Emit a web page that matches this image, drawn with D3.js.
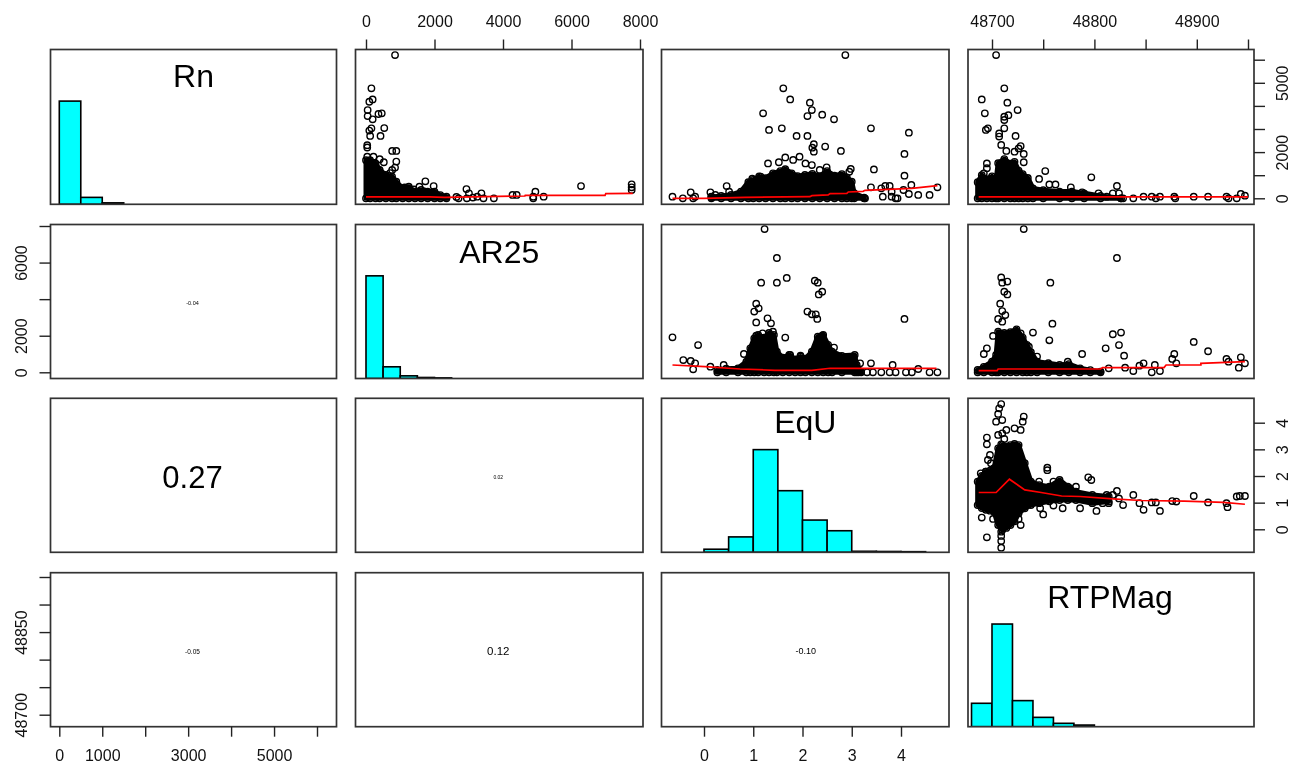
<!DOCTYPE html>
<html>
<head>
<meta charset="utf-8">
<script src="https://cdn.jsdelivr.net/npm/d3@7"></script>
<style>
  html, body { margin: 0; padding: 0; background: #fff; }
  svg { display: block; filter: blur(0.45px); }
  text { font-family: "Liberation Sans", Arial, sans-serif; }
</style>
</head>
<body>
<div id="chart"></div>
<script>
// Variable names on the diagonal
const varNames = ["Rn", "AR25", "EqU", "RTPMag"];

// Tick values and which of them carry a label (R skips the ones that overlap)
const rnXTicks = [0, 1000, 2000, 3000, 4000, 5000, 6000];
const rnXLabels = [0, 1000, 3000, 5000];
const rnYLabels = [0, 2000, 5000];
const arTicks = [0, 2000, 4000, 6000, 8000];
const arXLabels = [0, 2000, 4000, 6000, 8000];
const arYLabels = [0, 2000, 6000];
const equTicks = [0, 1, 2, 3, 4];
const magTicks = [48700, 48750, 48800, 48850, 48900, 48950];
const magXLabels = [48700, 48800, 48900];
const magYLabels = [48700, 48850];

// Histogram breaks and bar heights (relative to the tallest bar)
const rnBreaks = [0, 500, 1000, 1500];
const rnHeights = [1, 0.067, 0.014];
const arBreaks = [0, 500, 1000, 1500, 2000, 2500];
const arHeights = [1, 0.114, 0.026, 0.01, 0.006];
const equBreaks = [0, 0.5, 1, 1.5, 2, 2.5, 3, 3.5, 4, 4.5];
const equHeights = [0.03, 0.15, 1, 0.6, 0.314, 0.21, 0.01, 0.008, 0.006];
const magBreaks = [48680, 48700, 48720, 48740, 48760, 48780, 48800];
const magHeights = [0.228, 1, 0.254, 0.091, 0.033, 0.016];

// Correlations in the lower panels: [row, col, text, font size]
const corrLabels = [
    [1, 0, "-0.04", 5.5],
    [2, 0, "0.27", 31],
    [2, 1, "0.02", 5],
    [3, 0, "-0.05", 6.5],
    [3, 1, "0.12", 11.5],
    [3, 2, "-0.10", 9]
];

// Scatter points [x, y]
const arRnPoints = [[848,6200],[158,4760],[194,4280],[97,4180],[48,3820],[48,3560],[460,3680],[364,3650],[194,3420],[533,3040],[158,3030],[97,2930],[121,2700],[424,2700],[36,2300],[36,2200],[764,2050],[885,2050],[36,1800],[218,1800],[400,1690],[520,1560],[885,1590],[764,1230],[848,1330],[703,1090],[1733,735],[1975,530],[2933,400],[6278,530],[7757,605],[7757,475],[7757,360],[2703,0],[2945,0],[3006,216],[3370,216],[3430,0],[3733,0],[4278,144],[4400,144],[4884,0],[4945,288],[5187,72],[4884,72],[3248,72],[2640,60],[3120,30],[1560,500],[1400,380],[1130,470],[1700,300]];
const arRnDense = [[0,0,1650],[120,0,1650],[280,0,1510],[400,0,1230],[580,0,1010],[760,0,940],[885,0,720],[1070,0,430],[1250,0,500],[1430,0,290],[1610,0,360],[1800,0,290],[2000,0,290],[2170,0,140],[2350,0,70]];
const arRnSmooth = [[0,58],[1855,58],[2300,44],[4640,100],[4650,130],[6980,130],[7000,200],[7790,216]];

const equRnPoints = [[2.87,6200],[1.61,4760],[1.75,4280],[2.15,4140],[2.19,3820],[2.10,3560],[2.40,3620],[2.64,3420],[1.20,3680],[1.32,2960],[1.58,3030],[1.88,2700],[2.10,2700],[2.23,2340],[2.20,2190],[2.23,2020],[2.46,2240],[2.78,2050],[3.39,3030],[4.16,2840],[4.07,1920],[3.45,1250],[4.07,980],[1.30,1510],[1.52,1560],[1.65,1770],[1.81,1660],[1.94,1800],[2.06,1510],[2.19,1440],[2.49,1340],[2.98,1270],[2.95,1150],[2.35,1230],[0.98,850],[1.15,940],[0.46,530],[-0.27,260],[-0.64,72],[-0.43,0],[-0.18,72],[-0.22,0],[0.13,260],[0.51,288],[0.15,72],[0.23,144],[3.39,476],[3.60,432],[3.68,533],[3.77,533],[3.81,288],[3.63,72],[3.81,72],[3.89,0],[3.93,0],[4.05,360],[4.16,187],[4.21,577],[4.35,144],[4.58,144],[4.74,476],[3.27,0]];
const equRnDense = [[0.15,0,60],[0.35,0,100],[0.55,0,150],[0.75,0,290],[0.9,0,700],[1.0,0,800],[1.12,0,950],[1.25,0,870],[1.4,0,1080],[1.55,0,1180],[1.65,0,1260],[1.78,0,1080],[1.9,0,960],[2.05,0,1010],[2.2,0,1060],[2.35,0,950],[2.5,0,1180],[2.65,0,980],[2.8,0,1050],[2.9,0,900],[3.0,0,720],[3.05,0,220],[3.25,0,30]];
const equRnSmooth = [[-0.64,0],[0,0],[0.83,43],[2.15,72],[2.19,115],[2.52,144],[2.56,202],[2.9,216],[2.93,274],[3.23,303],[3.27,346],[4.22,432],[4.74,548]];

const magRnPoints = [[48704,6200],[48712,4760],[48690,4280],[48715,4140],[48693,3680],[48725,3820],[48716,3600],[48712,3530],[48712,3390],[48696,3030],[48694,2960],[48712,3030],[48707,2810],[48707,2670],[48723,2700],[48709,2310],[48728,2260],[48726,2160],[48722,2020],[48714,2050],[48731,1920],[48731,1560],[48695,1510],[48695,1300],[48692,1080],[48752,1180],[48746,840],[48756,600],[48762,600],[48797,910],[48777,476],[48822,533],[48804,216],[48818,216],[48824,216],[48838,0],[48848,72],[48856,72],[48864,72],[48878,72],[48879,0],[48897,72],[48911,72],[48929,72],[48931,0],[48939,0],[48943,187],[48947,115],[48860,0],[48828,0],[48812,72],[48788,260]];
const magRnDense = [[48686,0,700],[48690,0,1000],[48695,0,830],[48700,0,950],[48704,0,800],[48706,0,1520],[48712,0,1700],[48718,0,1500],[48722,0,1580],[48726,0,1200],[48730,0,1050],[48735,0,880],[48740,0,430],[48750,0,350],[48766,0,290],[48778,0,290],[48790,0,216],[48806,0,100],[48826,0,0]];
const magRnSmooth = [[48687,58],[48950,58]];

const equArPoints = [[1.23,7830],[1.48,6250],[1.16,4900],[1.48,4900],[1.68,5160],[2.25,5010],[2.31,4900],[2.40,4410],[2.33,4260],[1.06,3750],[1.11,3500],[1.02,3320],[2.10,3320],[2.19,3170],[2.27,3170],[2.30,2920],[1.06,2730],[1.29,2950],[1.36,2680],[4.07,2920],[-0.64,1910],[-0.12,1490],[-0.42,670],[-0.27,620],[-0.18,490],[-0.22,160],[0.13,310],[0.40,400],[0.81,1000],[1.06,2000],[1.19,2130],[1.40,2220],[1.65,1900],[2.40,2000],[2.31,1770],[2.64,1350],[2.23,1040],[3.17,490],[3.39,490],[3.83,400],[4.35,180],[4.58,0],[4.74,0],[3.14,0],[3.31,0],[3.43,0],[3.60,0],[3.77,0],[3.89,0],[4.10,0],[4.22,0],[1.75,950],[1.96,910]];
const equArDense = [[0.27,0,130],[0.45,0,200],[0.69,0,220],[0.86,0,580],[0.94,0,1310],[1.02,0,1860],[1.1,0,2040],[1.22,0,1900],[1.32,0,2150],[1.42,0,2040],[1.48,0,1130],[1.6,0,800],[1.73,0,950],[1.85,0,700],[1.96,0,860],[2.06,0,750],[2.19,0,1130],[2.31,0,1950],[2.42,0,2040],[2.52,0,1500],[2.6,0,1130],[2.8,0,900],[3.06,0,950],[3.10,0,400],[3.19,0,40]];
const equArSmooth = [[-0.64,400],[0.02,310],[0.73,180],[1.44,110],[2.19,110],[2.56,220],[4.72,220]];

const magArPoints = [[48731,7830],[48822,6250],[48757,4900],[48709,5190],[48710,4900],[48715,4960],[48712,4410],[48715,4260],[48708,3750],[48710,3350],[48713,3130],[48706,2920],[48710,2770],[48759,2660],[48756,1750],[48740,2170],[48728,2130],[48701,1990],[48695,1310],[48692,1000],[48788,1000],[48818,2080],[48826,2170],[48824,1490],[48811,1310],[48829,910],[48897,1660],[48911,1150],[48878,1000],[48876,730],[48880,490],[48929,730],[48931,580],[48943,820],[48947,490],[48941,255],[48838,70],[48856,0],[48864,70],[48859,400],[48848,490],[48830,255],[48844,365],[48814,220],[48736,1400],[48734,1130],[48744,860],[48774,580]];
const magArDense = [[48686,0,130],[48692,0,300],[48700,0,580],[48704,0,950],[48706,0,2220],[48712,0,2150],[48718,0,2200],[48724,0,2350],[48730,0,1900],[48734,0,1500],[48738,0,1100],[48744,0,580],[48755,0,500],[48766,0,400],[48775,0,450],[48786,0,220],[48796,0,120],[48806,0,40]];
const magArSmooth = [[48687,90],[48705,90],[48706,180],[48806,180],[48808,255],[48868,255],[48870,400],[48904,400],[48904,490],[48947,580]];

const magEquPoints = [[48709,4.70],[48707,4.54],[48706,4.33],[48710,4.10],[48704,4.04],[48731,4.23],[48730,4.04],[48728,3.73],[48722,3.79],[48714,3.73],[48710,3.60],[48706,3.54],[48695,3.44],[48695,3.19],[48709,3.19],[48712,3.39],[48698,2.79],[48696,2.60],[48699,2.48],[48689,2.10],[48694,2.16],[48754,2.31],[48754,2.22],[48794,1.95],[48797,1.85],[48746,1.79],[48760,1.79],[48782,1.60],[48776,1.54],[48812,1.29],[48822,1.44],[48838,1.29],[48818,1.29],[48824,1.16],[48828,0.91],[48844,0.98],[48848,0.73],[48864,0.69],[48802,0.69],[48786,0.79],[48769,0.79],[48760,0.89],[48750,0.56],[48747,0.79],[48856,1.01],[48860,1.01],[48876,1.06],[48880,1.04],[48897,1.25],[48911,1.01],[48929,0.98],[48930,0.83],[48939,1.23],[48942,1.25],[48947,1.25],[48814,0.98],[48808,0.98],[48690,0.44],[48701,0.39],[48695,-0.30],[48709,-0.25],[48709,-0.44],[48709,-0.69],[48709,-0.09],[48710,0.10],[48728,0.16],[48726,0.39],[48714,0.48]];
const magEquDense = [[48686,0.91,1.79],[48690,0.8,2.0],[48694,0.73,2.16],[48698,0.7,2.2],[48702,0.66,2.29],[48706,0.16,3.04],[48710,-0.03,3.16],[48714,0.05,3.1],[48718,0.16,3.16],[48722,0.3,3.2],[48726,0.6,3.16],[48732,0.79,2.48],[48738,0.91,1.79],[48746,0.98,1.66],[48756,1.05,1.6],[48766,1.1,1.85],[48774,1.1,1.6],[48782,1.1,1.41],[48798,0.98,1.29],[48814,1.04,1.23]];
const magEquSmooth = [[48687,1.38],[48704,1.38],[48717,1.88],[48732,1.48],[48748,1.38],[48768,1.25],[48786,1.23],[48818,1.14],[48846,1.08],[48888,1.06],[48926,1.01],[48947,0.94]];

// Panel edges in pixels
const colEdges = [[50.5, 336.5], [355.5, 643], [661.5, 949], [968, 1254]];
const rowEdges = [[49.5, 204.3], [224.5, 378.5], [398.3, 552.3], [572.7, 726.7]];
const nameBaselines = [87, 263, 433, 608];

const svg = d3.select("#chart")
    .append("svg")
    .attr("width", 1292)
    .attr("height", 763);

// One scale per variable, fixed by the tick positions seen in the picture
const xScales = [
    d3.scaleLinear().domain([0, 6000]).range([59.3, 317]),
    d3.scaleLinear().domain([0, 8000]).range([366, 640]),
    d3.scaleLinear().domain([0, 4]).range([704, 901]),
    d3.scaleLinear().domain([48700, 48950]).range([992, 1248])
];
const yScales = [
    d3.scaleLinear().domain([0, 6000]).range([198.3, 59.7]),
    d3.scaleLinear().domain([0, 8000]).range([372.3, 226]),
    d3.scaleLinear().domain([0, 4]).range([529.3, 422.7]),
    d3.scaleLinear().domain([48700, 48950]).range([714.7, 577])
];

// Clip marks to each panel box
const defs = svg.append("defs");
rowEdges.forEach((re, r) => {
    colEdges.forEach((ce, c) => {
        defs.append("clipPath")
            .attr("id", `clip-${r}-${c}`)
            .append("rect")
            .attr("x", ce[0])
            .attr("y", re[0])
            .attr("width", ce[1] - ce[0])
            .attr("height", re[1] - re[0]);
    });
});

function panel(r, c) {
    return svg.append("g").attr("clip-path", `url(#clip-${r}-${c})`);
}

// Scatter panel: solid overplotted mass, open circles, then the red smoother
function drawScatter(r, c, points, dense, smooth) {
    const x = xScales[c], y = yScales[r];
    const g = panel(r, c);

    const area = d3.area()
        .x(d => x(d[0]))
        .y0(d => y(d[1]))
        .y1(d => y(d[2]));
    g.append("path")
        .attr("d", area(dense))
        .attr("fill", "#000")
        .attr("stroke", "#000")
        .attr("stroke-width", 5)
        .attr("stroke-linejoin", "round");

    // rim of the mass is still made of single circles
    const rim = dense.map(d => [d[0], d[2]]).concat(dense.map(d => [d[0], d[1]]));

    g.selectAll("circle.pt")
        .data(points.concat(rim))
        .join("circle")
        .attr("class", "pt")
        .attr("cx", d => x(d[0]))
        .attr("cy", d => y(d[1]))
        .attr("r", 3.2)
        .attr("fill", "none")
        .attr("stroke", "#000")
        .attr("stroke-width", 1.4);

    const line = d3.line().x(d => x(d[0])).y(d => y(d[1]));
    g.append("path")
        .attr("d", line(smooth))
        .attr("fill", "none")
        .attr("stroke", "#f00")
        .attr("stroke-width", 1.7);
}

// Histogram panel: bars use 0..1.5 of the panel height, name sits on top
function drawHist(i, breaks, heights) {
    const x = xScales[i];
    const y = d3.scaleLinear().domain([0, 1.5]).range([rowEdges[i][1], rowEdges[i][0]]);
    const g = panel(i, i);
    g.selectAll("rect")
        .data(heights)
        .join("rect")
        .attr("x", (d, k) => x(breaks[k]))
        .attr("y", d => y(d))
        .attr("width", (d, k) => x(breaks[k + 1]) - x(breaks[k]))
        .attr("height", d => y(0) - y(d))
        .attr("fill", "#00ffff")
        .attr("stroke", "#000")
        .attr("stroke-width", 1.6);

    svg.append("text")
        .attr("x", (colEdges[i][0] + colEdges[i][1]) / 2 + (i === 3 ? -1 : 0))
        .attr("y", nameBaselines[i])
        .attr("text-anchor", "middle")
        .attr("font-size", 32)
        .attr("fill", "#000")
        .text(varNames[i]);
}

drawHist(0, rnBreaks, rnHeights);
drawHist(1, arBreaks, arHeights);
drawHist(2, equBreaks, equHeights);
drawHist(3, magBreaks, magHeights);

drawScatter(0, 1, arRnPoints, arRnDense, arRnSmooth);
drawScatter(0, 2, equRnPoints, equRnDense, equRnSmooth);
drawScatter(0, 3, magRnPoints, magRnDense, magRnSmooth);
drawScatter(1, 2, equArPoints, equArDense, equArSmooth);
drawScatter(1, 3, magArPoints, magArDense, magArSmooth);
drawScatter(2, 3, magEquPoints, magEquDense, magEquSmooth);

// Correlation text in the lower triangle
corrLabels.forEach(([r, c, label, size]) => {
    svg.append("text")
        .attr("x", (colEdges[c][0] + colEdges[c][1]) / 2 - 1 + (c === 2 ? 1.5 : 0))
        .attr("y", (rowEdges[r][0] + rowEdges[r][1]) / 2 + size * 0.36 + 1.5)
        .attr("text-anchor", "middle")
        .attr("font-size", size)
        .attr("fill", "#000")
        .text(label);
});

// Panel boxes
rowEdges.forEach(re => {
    colEdges.forEach(ce => {
        svg.append("rect")
            .attr("x", ce[0])
            .attr("y", re[0])
            .attr("width", ce[1] - ce[0])
            .attr("height", re[1] - re[0])
            .attr("fill", "none")
            .attr("stroke", "#333")
            .attr("stroke-width", 1.7);
    });
});

// Axes alternate between sides, like R's pairs()
function styleAxis(g) {
    g.select(".domain").remove();
    g.selectAll("line").attr("stroke", "#222").attr("stroke-width", 1.4);
    g.selectAll("text").attr("font-size", 16).attr("fill", "#111")
        .attr("font-family", '"Liberation Sans", Arial, sans-serif');
    // ticks without a label keep no empty text node
    g.selectAll("text").filter(function() { return this.textContent === ""; }).remove();
}

function labelFormat(labels) {
    return d => labels.includes(d) ? String(d) : "";
}

function horizontalAxis(axisFn, scale, ticks, labels, yPos, padding) {
    const g = svg.append("g").attr("transform", `translate(0,${yPos})`);
    g.call(axisFn(scale).tickValues(ticks).tickFormat(labelFormat(labels))
        .tickSize(10).tickPadding(padding));
    styleAxis(g);
}

function verticalAxis(axisFn, scale, ticks, labels, xPos, labelOffset) {
    const g = svg.append("g").attr("transform", `translate(${xPos},0)`);
    g.call(axisFn(scale).tickValues(ticks).tickFormat(labelFormat(labels)).tickSize(11));
    styleAxis(g);
    g.selectAll("text")
        .attr("x", 0)
        .attr("y", 0)
        .attr("dy", 0)
        .attr("text-anchor", "middle")
        .attr("transform", `translate(${labelOffset},0) rotate(-90)`);
}

horizontalAxis(d3.axisBottom, xScales[0], rnXTicks, rnXLabels, rowEdges[3][1], 12.8);
horizontalAxis(d3.axisBottom, xScales[2], equTicks, equTicks, rowEdges[3][1], 12.8);
horizontalAxis(d3.axisTop, xScales[1], arTicks, arXLabels, rowEdges[0][0], 12.5);
horizontalAxis(d3.axisTop, xScales[3], magTicks, magXLabels, rowEdges[0][0], 12.5);

verticalAxis(d3.axisLeft, yScales[1], arTicks, arYLabels, colEdges[0][0], -24);
verticalAxis(d3.axisLeft, yScales[3], magTicks, magYLabels, colEdges[0][0], -24);
verticalAxis(d3.axisRight, yScales[0], rnXTicks, rnYLabels, colEdges[3][1], 34);
verticalAxis(d3.axisRight, yScales[2], equTicks, equTicks, colEdges[3][1], 34);
</script>
</body>
</html>
